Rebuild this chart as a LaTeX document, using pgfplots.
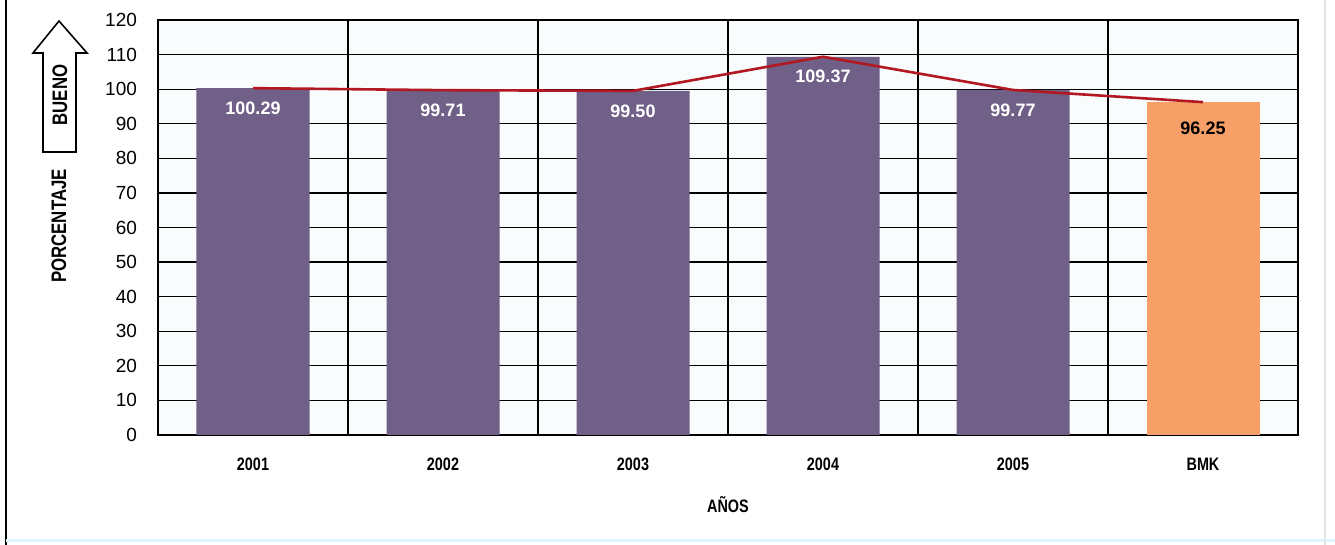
\documentclass[border=0pt]{standalone}
\usepackage{pgfplots}
\pgfplotsset{compat=1.18}
\usepackage{fontspec}
\setmainfont{Liberation Sans}
\newfontfamily\narrow[FakeStretch=0.8]{Liberation Sans}

\definecolor{barpurple}{RGB}{112,96,136}
\definecolor{barorange}{RGB}{246,160,104}
\definecolor{linered}{RGB}{178,24,34}
\definecolor{paper}{RGB}{248,252,252}

\begin{document}
\begin{tikzpicture}
\useasboundingbox (0,0) rectangle (667.5pt,272.5pt);

\begin{axis}[
    at={(79pt,55pt)}, anchor=south west,
    scale only axis,
    width=570pt, height=207.5pt,
    xmin=-0.5, xmax=5.5,
    ymin=0, ymax=120,
    xtick={0,1,2,3,4,5},
    xticklabels={2001,2002,2003,2004,2005,BMK},
    minor xtick={-0.5,0.5,1.5,2.5,3.5,4.5,5.5},
    xminorgrids=true,
    ytick={0,10,...,120},
    ymajorgrids=true,
    grid style={black, line width=0.6pt},
    minor grid style={black, line width=0.6pt},
    axis line style={line width=1.2pt},
    major tick length=0pt, minor tick length=0pt,
    /pgf/number format/assume math mode=true,
    xticklabel style={font=\narrow\bfseries\fontsize{9}{10}\selectfont, yshift=-8pt},
    yticklabel style={font=\fontsize{9.5}{11}\selectfont, xshift=-7pt},
    axis background/.style={fill=paper},
    nodes near coords={\pgfmathprintnumber[fixed,fixed zerofill,precision=2]{\pgfplotspointmeta}},
]

% 2001-2005
\addplot[ybar, bar width=56.5pt, bar shift=0pt, fill=barpurple, draw=none,
    every node near coord/.append style={anchor=center, yshift=-10pt,
        font=\bfseries\fontsize{9}{10}\selectfont, text=white}]
    coordinates {
(0,100.29)
(1,99.71)
(2,99.50)
(3,109.37)
(4,99.77)
    };

% benchmark
\addplot[ybar, bar width=56.5pt, bar shift=0pt, fill=barorange, draw=none,
    every node near coord/.append style={anchor=center, yshift=-13pt,
        font=\bfseries\fontsize{9}{10}\selectfont, text=black}]
    coordinates {
(5,96.25)
    };

% linea
\addplot[linered, line width=1.3pt, mark=none, nodes near coords={}]
    coordinates {
(0,100.29)
(1,99.71)
(2,99.50)
(3,109.37)
(4,99.77)
(5,96.25)
    };

\end{axis}

% rotulos fuera del eje
\node[font=\narrow\bfseries\fontsize{9}{10}\selectfont] at (364pt,20pt) {AÑOS};

\draw[line width=0.8pt, fill=white]
    (29.5pt,262pt) -- (43.5pt,246pt) -- (38pt,246pt) -- (38pt,196.5pt)
    -- (21.5pt,196.5pt) -- (21.5pt,246pt) -- (16.5pt,246pt) -- cycle;
\node[rotate=90, font=\narrow\bfseries\fontsize{10.5}{12}\selectfont] at (30pt,225pt) {BUENO};
\node[rotate=90, font=\narrow\bfseries\fontsize{10.5}{12}\selectfont] at (29.5pt,159.5pt) {PORCENTAJE};

% marco
\draw[line width=1.2pt] (3pt,0pt) -- (3pt,272.5pt);
\draw[cyan!12, line width=1.5pt] (3pt,2pt) -- (667.5pt,2pt);
\draw[black!10, line width=0.8pt] (662.5pt,0pt) -- (662.5pt,272.5pt);
\end{tikzpicture}
\end{document}
